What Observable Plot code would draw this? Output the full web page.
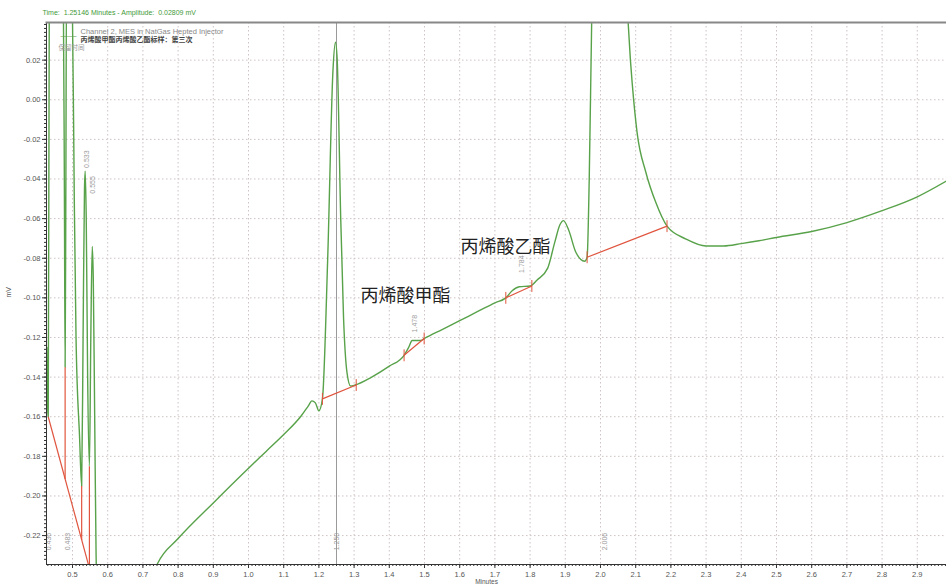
<!DOCTYPE html>
<html><head><meta charset="utf-8">
<script src="https://cdn.jsdelivr.net/npm/d3@7"></script>
<script src="https://cdn.jsdelivr.net/npm/@observablehq/plot@0.6"></script>
<style>body{margin:0;background:#fff;overflow:hidden}</style>
</head><body><div id="chart"></div>
<script>
// Chromatogram trace (minutes, mV)
const timeMin = [0.427,0.430,0.431,0.434,0.436,0.440,0.474,0.477,0.479,0.481,0.483,0.490,0.500,0.505,0.510,0.520,0.526,0.530,0.534,0.536,0.539,0.543,0.548,0.552,0.556,0.559,0.563,0.567,0.575,0.620,0.700,0.742,0.800,0.900,1.000,1.050,1.100,1.150,1.170,1.180,1.190,1.200,1.210,1.225,1.240,1.247,1.252,1.262,1.270,1.280,1.290,1.303,1.350,1.400,1.442,1.455,1.465,1.490,1.500,1.550,1.600,1.650,1.700,1.731,1.749,1.769,1.800,1.820,1.850,1.870,1.885,1.895,1.910,1.930,1.955,1.962,1.968,1.975,2.006,2.075,2.085,2.090,2.104,2.129,2.157,2.189,2.243,2.300,2.350,2.400,2.450,2.500,2.600,2.700,2.800,2.900,2.983];
const amplitude = [-0.125,-0.158,-0.160,0.050,0.090,0.060,0.050,-0.050,-0.135,-0.050,0.060,0.060,0.040,-0.050,-0.120,-0.170,-0.195,-0.120,-0.045,-0.036,-0.060,-0.140,-0.185,-0.120,-0.074,-0.090,-0.160,-0.230,-0.270,-0.290,-0.255,-0.234,-0.2215,-0.2035,-0.1860,-0.1775,-0.1690,-0.1595,-0.1545,-0.152,-0.153,-0.157,-0.151,-0.080,0.015,0.029,0.020,-0.060,-0.110,-0.138,-0.1445,-0.144,-0.140,-0.1345,-0.129,-0.125,-0.1215,-0.1215,-0.1205,-0.116,-0.1115,-0.107,-0.1025,-0.100,-0.0964,-0.0944,-0.094,-0.091,-0.085,-0.072,-0.063,-0.061,-0.066,-0.077,-0.0815,-0.0795,-0.040,0.040,0.200,0.050,0.020,0.0085,-0.0166,-0.0367,-0.0518,-0.0638,-0.0703,-0.0738,-0.0738,-0.0726,-0.0712,-0.0695,-0.0665,-0.0620,-0.0560,-0.0490,-0.0410];

// Integration baselines (red)
const baseX1 = [0.431,1.210,1.442,1.731,1.962];
const baseY1 = [-0.160,-0.151,-0.129,-0.100,-0.0795];
const baseX2 = [0.548,1.306,1.499,1.805,2.189];
const baseY2 = [-0.2365,-0.144,-0.1205,-0.094,-0.0638];
// Drop lines
const dropX = [0.479,0.526,0.548];
const dropTop = [-0.135,-0.195,-0.185];
const dropBottom = [-0.1914,-0.2222,-0.2365];

// Retention-time labels
const rtText = ["0.436","0.483","0.533","0.555","1.250","1.478","1.784","2.006"];
const rtX = [0.433,0.487,0.540,0.558,1.250,1.473,1.775,2.012];
const rtY = [-0.223,-0.223,-0.030,-0.043,-0.223,-0.113,-0.083,-0.223];

// Peak names
const peakNames = ["丙烯酸甲酯","丙烯酸乙酯"];
const peakNameX = [1.446,1.730];
const peakNameY = [-0.0994,-0.0743];

const cursorTime = [1.25];
const xTicks = [0.5,0.6,0.7,0.8,0.9,1.0,1.1,1.2,1.3,1.4,1.5,1.6,1.7,1.8,1.9,2.0,2.1,2.2,2.3,2.4,2.5,2.6,2.7,2.8,2.9];
const yTicks = [0.02,0.00,-0.02,-0.04,-0.06,-0.08,-0.10,-0.12,-0.14,-0.16,-0.18,-0.20,-0.22];
const xMinor = d3.range(43, 299).map(i => i / 100);
const yMinor = d3.range(-116, 20).map(i => i / 500);

const trace = timeMin.map((t, i) => ({t, a: amplitude[i]}));
const baselines = baseX1.map((x, i) => ({x1: x, y1: baseY1[i], x2: baseX2[i], y2: baseY2[i]}));
const drops = dropX.map((x, i) => ({x, y1: dropTop[i], y2: dropBottom[i]}));
const endTicks = [];
baselines.slice(1).forEach(b => { endTicks.push({x: b.x1, y: b.y1}); endTicks.push({x: b.x2, y: b.y2}); });
const rts = rtText.map((s, i) => ({s, x: rtX[i], y: rtY[i]}));
const names = peakNames.map((s, i) => ({s, x: peakNameX[i], y: peakNameY[i]}));

const green = "#58a24a", red = "#e0553f", grid = "#cfc3c3";
const chart = Plot.plot({
  width: 946, height: 586,
  marginLeft: 46, marginRight: 0, marginTop: 22, marginBottom: 22,
  style: {fontFamily: "Liberation Sans, Arial, sans-serif", fontSize: "7.5px", color: "#555", background: "#fff", overflow: "visible"},
  x: {domain: [0.4261, 2.983]},
  y: {domain: [-0.2346, 0.039]},
  marks: [
    Plot.gridX(xTicks, {stroke: grid, strokeOpacity: 1, strokeDasharray: "1.5,2.5"}),
    Plot.gridY(yTicks, {stroke: grid, strokeOpacity: 1, strokeDasharray: "1.5,2.5"}),
    Plot.ruleX(cursorTime, {stroke: "#9a9a9a", strokeWidth: 1}),
    Plot.line(trace, {x: "t", y: "a", stroke: green, strokeWidth: 1.4, curve: "monotone-x", clip: true}),
    Plot.link(baselines, {x1: "x1", y1: "y1", x2: "x2", y2: "y2", stroke: red, strokeWidth: 1.2, clip: true}),
    Plot.link(drops, {x1: "x", x2: "x", y1: "y1", y2: "y2", stroke: red, strokeWidth: 1.2, clip: true}),
    Plot.link(endTicks, {x1: "x", x2: "x", y1: d => d.y - 0.003, y2: d => d.y + 0.003, stroke: red, strokeWidth: 1}),
    Plot.text(rts, {x: "x", y: "y", text: "s", rotate: -90, fill: "#9a9a9a", fontSize: 7}),
    Plot.text(names, {x: "x", y: "y", text: "s", fontSize: 18, fill: "#222", fontFamily: "Noto Sans CJK SC"}),
    Plot.axisX(xMinor, {tickSize: 2, tickFormat: () => "", stroke: "#333"}),
    Plot.axisX(xTicks, {tickSize: 4, tickPadding: 3, tickFormat: d => d.toFixed(1), label: null, stroke: "#333", fill: "#555"}),
    Plot.axisY(yMinor, {tickSize: 2, tickFormat: () => "", stroke: "#333"}),
    Plot.axisY(yTicks, {tickSize: 4, tickPadding: 2, tickFormat: d => d.toFixed(2), label: null, stroke: "#333", fill: "#555"}),
    Plot.frame({anchor: "left", stroke: "#333"}),
    Plot.frame({anchor: "bottom", stroke: "#333"}),
    Plot.frame({anchor: "top", stroke: "#888", strokeWidth: 2}),
    Plot.text(["Time:  1.25146 Minutes - Amplitude:  0.02809 mV"], {frameAnchor: "top-left", dx: -4, dy: -12, textAnchor: "start", fill: "#3f9a3a", fontSize: 7}),
    Plot.text(["Channel 2, MES in NatGas Hepted Injector"], {frameAnchor: "top-left", dx: 34, dy: 6, textAnchor: "start", fill: "#888", fontSize: 7.5}),
    Plot.text(["丙烯酸甲酯丙烯酸乙酯标样：第三次"], {frameAnchor: "top-left", dx: 34, dy: 15, textAnchor: "start", fill: "#444", fontSize: 7, fontWeight: "bold", fontFamily: "Noto Sans CJK SC"}),
    Plot.text(["保留时间"], {frameAnchor: "top-left", dx: 12, dy: 23, textAnchor: "start", fill: "#999", fontSize: 6.5, fontFamily: "Noto Sans CJK SC"}),
    Plot.text(["——"], {frameAnchor: "top-left", dx: 14, dy: 10, textAnchor: "start", fill: green, fontSize: 8}),
    Plot.text(["Minutes"], {frameAnchor: "bottom", dx: -10, dy: 19, fill: "#555", fontSize: 6.5}),
    Plot.text(["mV"], {frameAnchor: "left", dx: -38, dy: 4, rotate: -90, fill: "#555", fontSize: 7})
  ]
});
document.getElementById("chart").appendChild(chart);
</script>
</body></html>
